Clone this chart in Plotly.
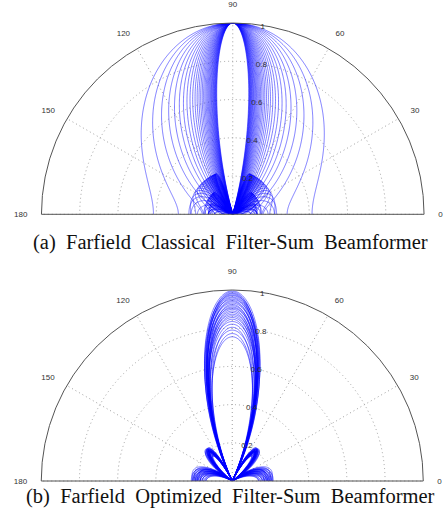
import numpy as np
import plotly.graph_objects as go

# ---------------- data (read / estimated from the picture) ----------------
# (a) classical filter-sum: one beam pattern per analysis frequency (Hz)
classical_freqs_hz = [700, 800, 900, 1000, 1100, 1200, 1300, 1400, 1500, 1600,
                      1700, 1800, 1900, 2000, 2100, 2200, 2300, 2400, 2500, 2600,
                      2700, 2800, 2900, 3000, 3100, 3200, 3300, 3400, 3500, 3600,
                      3700, 3800, 3900, 4000]
classical_mics = 8          # microphones in the linear array
classical_spacing_m = 0.041 # inter-microphone spacing
sound_speed = 343.0

# (b) optimized filter-sum: peak response and mic spacing (in wavelengths) per curve
optimized_peak = [0.995, 0.99, 0.984, 0.98, 0.974, 0.97, 0.963, 0.958, 0.951, 0.945,
                  0.939, 0.932, 0.925, 0.918, 0.911, 0.905, 0.899, 0.89, 0.882, 0.873,
                  0.865, 0.856, 0.847, 0.835, 0.821, 0.805, 0.79, 0.772, 0.755]
optimized_spacing_wl = [0.58, 0.62, 0.60, 0.64, 0.57, 0.61, 0.59, 0.63, 0.56, 0.62,
                        0.60, 0.58, 0.64, 0.59, 0.61, 0.57, 0.63, 0.60, 0.62, 0.58,
                        0.61, 0.59, 0.63, 0.57, 0.60, 0.64, 0.58, 0.62, 0.60]
optimized_weights = [0.85, 1.0, 1.0, 0.85]

angle_ticks = [0, 30, 60, 90, 120, 150, 180]
radial_ticks = [0.2, 0.4, 0.6, 0.8, 1.0]
radial_labels = ["0.2", "0.4", "0.6", "0.8", "1"]
captions = ["(a) Farfield Classical Filter-Sum Beamformer",
            "(b) Farfield Optimized Filter-Sum Beamformer"]

# ---------------- beam patterns (linear array response) ----------------
theta_deg = np.linspace(0, 180, 721)
u = np.cos(np.radians(theta_deg))


def array_response(weights, d_over_lambda):
    w = np.asarray(weights, dtype=float)
    psi = 2 * np.pi * d_over_lambda * u
    n = np.arange(len(w))
    resp = (np.exp(1j * np.outer(psi, n)) * w).sum(axis=1) / w.sum()
    return np.abs(resp)


fig = go.Figure()
line_style = dict(color="rgba(0,0,255,0.85)", width=0.6)

for f in classical_freqs_hz:
    lam = sound_speed / f
    r = array_response([1.0] * classical_mics, classical_spacing_m / lam)
    fig.add_trace(go.Scatterpolar(r=r, theta=theta_deg, mode="lines", line=line_style,
                                  subplot="polar", showlegend=False, hoverinfo="skip"))

for p, dw in zip(optimized_peak, optimized_spacing_wl):
    r = p * array_response(optimized_weights, dw)
    fig.add_trace(go.Scatterpolar(r=r, theta=theta_deg, mode="lines", line=line_style,
                                  subplot="polar2", showlegend=False, hoverinfo="skip"))

W, H = 448, 527
grid_col = "#a0a0a0"
tick_font = dict(family="Liberation Sans, Arial", size=8, color="#333333")


def polar_layout(x0, x1, ytop, ybot):
    return dict(
        domain=dict(x=[x0 / W, x1 / W], y=[(H - ybot) / H, (H - ytop) / H]),
        sector=[0, 180],
        bgcolor="white",
        angularaxis=dict(
            rotation=0, direction="counterclockwise",
            tickmode="array", tickvals=angle_ticks,
            ticktext=[str(t) for t in angle_ticks],
            ticks="outside", ticklen=12, tickcolor="rgba(0,0,0,0)",
            tickfont=tick_font,
            showgrid=True, gridcolor=grid_col, griddash="1px,3px", gridwidth=1,
            showline=True, linecolor="#555555", linewidth=1,
        ),
        radialaxis=dict(
            range=[0, 1], tickmode="array", tickvals=radial_ticks,
            ticktext=radial_labels, angle=83, tickangle=83,
            side="clockwise", showline=False, ticks="",
            tickfont=tick_font,
            showgrid=True, gridcolor=grid_col, griddash="1px,3px", gridwidth=1,
        ),
    )


gap = "\u00a0\u00a0"
cap_font = dict(family="Liberation Serif, Times New Roman", size=20.5, color="#111111")
fig.update_layout(
    width=W, height=H,
    margin=dict(l=0, r=0, t=0, b=0),
    paper_bgcolor="white",
    polar=polar_layout(41, 424.5, 23, 214.3),
    polar2=polar_layout(40, 424.5, 290, 481),
    annotations=[
        dict(text=captions[0].replace(" ", gap), x=(31 + 430) / 2 / W, y=(H - 242) / H,
             xref="paper", yref="paper", showarrow=False, font=cap_font),
        dict(text=captions[1].replace(" ", gap), x=(31 + 430) / 2 / W, y=(H - 509.5) / H,
             xref="paper", yref="paper", showarrow=False, font=cap_font),
    ],
)

fig.write_html("out.html", config={"displayModeBar": False},
               post_script="document.body.style.margin='0';")
